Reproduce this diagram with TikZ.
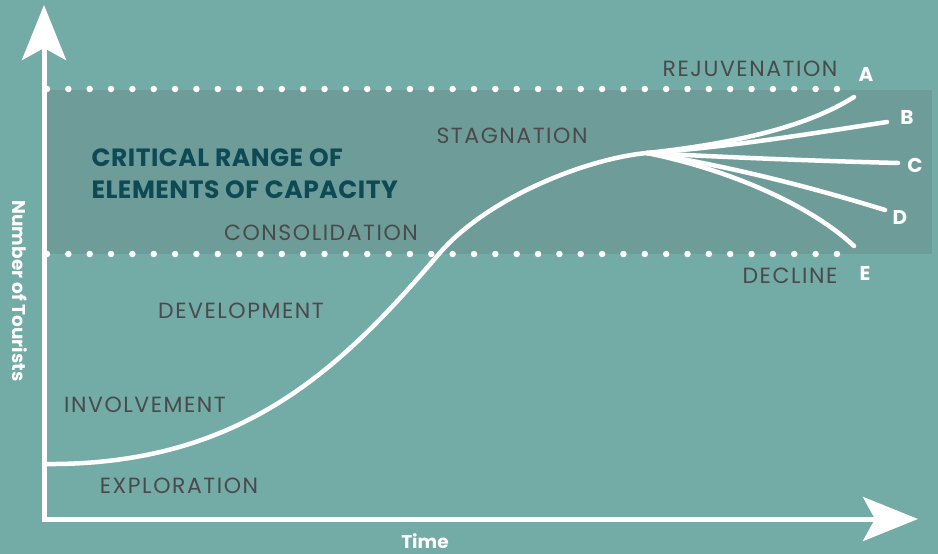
\documentclass[tikz,border=0pt]{standalone}
\usepackage{fontspec}
\setmainfont{Poppins}
\newfontfamily\fasefont[LetterSpace=7]{Poppins}
\newfontfamily\titfont[LetterSpace=2]{Poppins}
\usetikzlibrary{arrows.meta}
\definecolor{sfondo}{HTML}{73ABA6}
\definecolor{fascia}{HTML}{6E9D99}
\definecolor{grigio}{HTML}{4A4A4C}
\definecolor{petrolio}{HTML}{0E4A55}
\tikzset{
  asse/.style={white, line width=5pt, line cap=rect, -{Stealth[length=55pt,width=44pt,inset=12pt]}},
  curva/.style={white, line width=4.5pt, line cap=round},
  puntini/.style={white, line width=6.5pt, line cap=round, dash pattern=on 0pt off 21.35pt},
  fase/.style={grigio, font=\fasefont\fontsize{22}{26}\selectfont},
  lettera/.style={white, font=\fontsize{20}{24}\selectfont\bfseries},
  titolo/.style={petrolio, font=\titfont\fontsize{25}{32}\selectfont\bfseries, align=left, anchor=west},
  titasse/.style={white, font=\fontsize{18.5}{22}\selectfont\bfseries},
}
\begin{document}
\begin{tikzpicture}[x=1pt,y=-1pt]
        % Sfondo
        \fill[sfondo] (0,0) rectangle (938,554);
        \useasboundingbox (0,0) rectangle (938,554);

        % Fascia critica
        \fill[fascia] (47,90) rectangle (932,254);
        \draw[puntini] (47,89) -- (837.5,89);
        \draw[puntini] (47,254) -- (837.5,254);

        % Assi
        \coordinate (origine) at (44,519);
        \coordinate (cimaY) at (44,5);
        \coordinate (fineX) at (918,519);
        \draw[asse] (origine) -- (cimaY);
        \draw[asse] (origine) -- (fineX);

        % Curva
        \coordinate (inizio) at (44,464);
        \coordinate (flesso) at (438,255);
        \coordinate (nodo) at (647,153);
        \draw[curva] (inizio) .. controls (240,466) and (340,370) .. (flesso)
            .. controls (488,196) and (590,158) .. (nodo);

        % Rami
        \coordinate (fineA) at (854,97);
        \coordinate (fineB) at (887,122);
        \coordinate (fineC) at (898,163);
        \coordinate (fineD) at (885,210);
        \coordinate (fineE) at (854,246);
        \draw[curva] (nodo) .. controls (730,144) and (805,128) .. (fineA);
        \draw[curva] (nodo) .. controls (740,146) and (820,132) .. (fineB);
        \draw[curva] (nodo) .. controls (740,158) and (820,161) .. (fineC);
        \draw[curva] (nodo) .. controls (740,168) and (820,190) .. (fineD);
        \draw[curva] (nodo) .. controls (730,170) and (810,205) .. (fineE);

        % Etichette
        \node[fase] (rejuv) at (750,69) {REJUVENATION};
        \node[fase] (stagn) at (512,136) {STAGNATION};
        \node[fase] (consol) at (321,233) {CONSOLIDATION};
        \node[fase] (devel) at (241,311) {DEVELOPMENT};
        \node[fase] (invol) at (145,405) {INVOLVEMENT};
        \node[fase] (explor) at (179,486) {EXPLORATION};
        \node[fase] (decl) at (790,276) {DECLINE};
        \node[titolo] (critico) at (88,174) {CRITICAL RANGE OF\\ELEMENTS OF CAPACITY};

        \node[lettera] (letA) at (866,74) {A};
        \node[lettera] (letB) at (907,117) {B};
        \node[lettera] (letC) at (915,165) {C};
        \node[lettera] (letD) at (900,217) {D};
        \node[lettera] (letE) at (865,273) {E};

        % Assi: titoli
        \node[titasse] (tempo) at (425,541) {Time};
        \node[titasse, rotate=-90] (turisti) at (20,291) {Number of Tourists};
    \end{tikzpicture}
\end{document}
